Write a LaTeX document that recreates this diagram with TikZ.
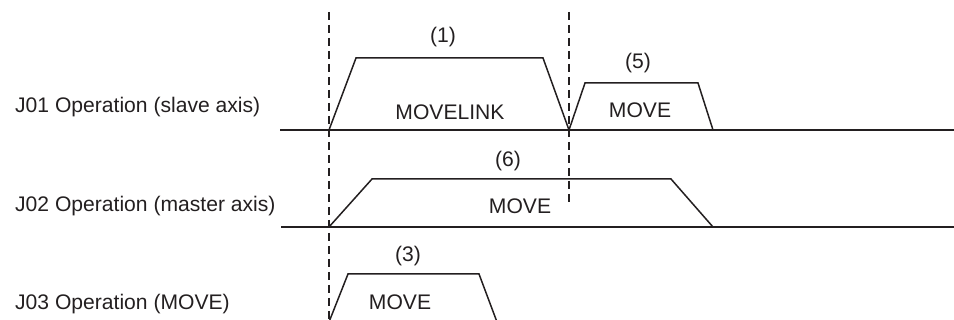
\documentclass[tikz,border=0pt]{standalone}
\usepackage{fontspec}
\setmainfont{Liberation Sans}
\definecolor{ink}{HTML}{231F20}
\begin{document}
\begin{tikzpicture}[x=1pt,y=-1pt,
  txt/.style={inner sep=0pt,text=ink,font=\fontsize{21.1}{25}\selectfont},
  axislabel/.style={txt,anchor=base west},
  sig/.style={draw=ink,line width=1.5pt,line join=miter},
  guide/.style={draw=ink,line width=1.2pt,dash pattern=on 8pt off 5pt}]
\useasboundingbox (0,0) rectangle (954,320);
\clip (0,0) rectangle (954,320);
% axis labels
\node[axislabel] (l1) at (15,113) {J01 Operation (slave axis)};
\node[axislabel] (l2) at (15,212) {J02 Operation (master axis)};
\node[axislabel] (l3) at (15,310) {J03 Operation (MOVE)};
% key coordinates
\coordinate (s1) at (329,130);
\coordinate (e1) at (569,130);
% baselines
\draw[sig] (280,130) -- (954,130);
\draw[sig] (281,227) -- (954,227);
% J01 MOVELINK
\draw[sig] (s1) -- (356,58) -- (543,58) -- (e1);
% J01 MOVE (5)
\draw[sig] (e1) -- (585,83) -- (698,83) -- (713,130);
% J02 MOVE (6)
\draw[sig] (329,227) -- (372,179) -- (671,179) -- (713,227);
% J03 MOVE (3)
\draw[sig] (329,322) -- (348,274) -- (479,274) -- (497,322);
% guides
\draw[guide] (329,12) -- (329,322);
\draw[guide] (569,12) -- (569,202);
% labels
\node[txt] (n1) at (443,37) {(1)};
\node[txt] (m1) at (450,112) {MOVELINK};
\node[txt] (n5) at (638,63) {(5)};
\node[txt] (m5) at (640,110) {MOVE};
\node[txt] (n6) at (508,161) {(6)};
\node[txt] (m6) at (520,206) {MOVE};
\node[txt] (n3) at (408,256) {(3)};
\node[txt] (m3) at (400,302) {MOVE};
\end{tikzpicture}
\end{document}
